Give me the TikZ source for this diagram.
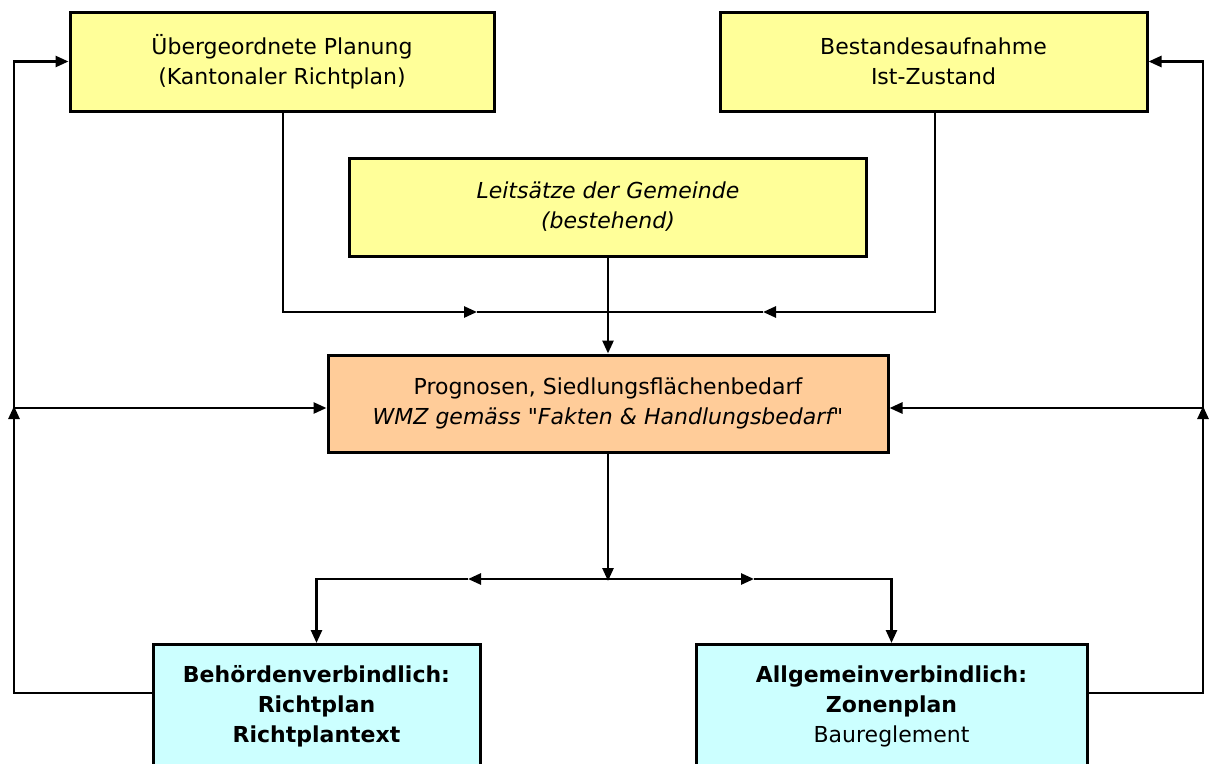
\documentclass[tikz,border=0pt]{standalone}
\usepackage{fontspec}
\setmainfont{DejaVu Sans}[Ligatures=TeXOff]
\usetikzlibrary{arrows.meta}
\definecolor{planyellow}{HTML}{FFFF99}
\definecolor{progpeach}{HTML}{FFCC99}
\definecolor{rulecyan}{HTML}{CCFFFF}

\begin{document}
\begin{tikzpicture}[x=1pt,y=-1pt,
		box/.style={draw,line width=3pt,inner sep=0pt,align=center,font=\fontsize{22}{30}\selectfont},
		conn/.style={line width=2.6pt},
		arr/.style={conn,-{Triangle[length=13pt,width=11pt]}}]
			\useasboundingbox (0,0) rectangle (1210,763);
			\node[box,fill=planyellow,minimum width=424,minimum height=99] (ueber) at (282,61.5) {Übergeordnete Planung\\(Kantonaler Richtplan)};
			\node[box,fill=planyellow,minimum width=427,minimum height=99] (bestand) at (933.5,61.5) {Bestandesaufnahme\\Ist-Zustand};
			\node[box,fill=planyellow,minimum width=517,minimum height=98] (leit) at (608,207) {\itshape Leitsätze der Gemeinde\\\itshape (bestehend)};
			\node[box,fill=progpeach,minimum width=560,minimum height=97] (prog) at (608,403.5) {Prognosen, Siedlungsflächenbedarf\\\itshape WMZ gemäss "Fakten \& Handlungsbedarf"};
			\node[box,fill=rulecyan,minimum width=327,minimum height=124,anchor=north] (behoerde) at (316.5,643) {\bfseries Behördenverbindlich:\\\bfseries Richtplan\\\bfseries Richtplantext};
			\node[box,fill=rulecyan,minimum width=391,minimum height=124,anchor=north] (allgemein) at (891.5,643) {\bfseries Allgemeinverbindlich:\\\bfseries Zonenplan\\Baureglement};
			\coordinate (topl) at (477,312);
			\coordinate (topr) at (763,312);
			\coordinate (botm) at (608,579);
			\coordinate (botl) at (468,579);
			\coordinate (botr) at (754,579);
			\coordinate (leftm) at (14,408);
			\coordinate (rightm) at (1203,408);
			\draw[arr] (ueber.south -| 283,0) |- (topl);
			\draw[arr] (bestand.south -| 935,0) |- (topr);
			\draw[conn] (topl) -- (topr);
			\draw[arr] (leit.south) -- (leit.south |- prog.north);
			\draw[arr] (prog.south -| botm) -- ([yshift=-2pt]botm);
			\draw[arr] (botm) -- (botl);
			\draw[arr] (botm) -- (botr);
			\draw[arr] (botl) -| (behoerde.north);
			\draw[arr] (botr) -| (allgemein.north);
			\draw[arr] (behoerde.west |- 0,693) -| ([yshift=2pt]leftm);
			\draw[arr] (leftm) -- (leftm -| prog.west);
			\draw[arr] (leftm) |- (ueber.west);
			\draw[arr] (allgemein.east |- 0,693) -| ([yshift=2pt]rightm);
			\draw[arr] (rightm) -- (rightm -| prog.east);
			\draw[arr] (rightm) |- (bestand.east);
		\end{tikzpicture}
\end{document}
